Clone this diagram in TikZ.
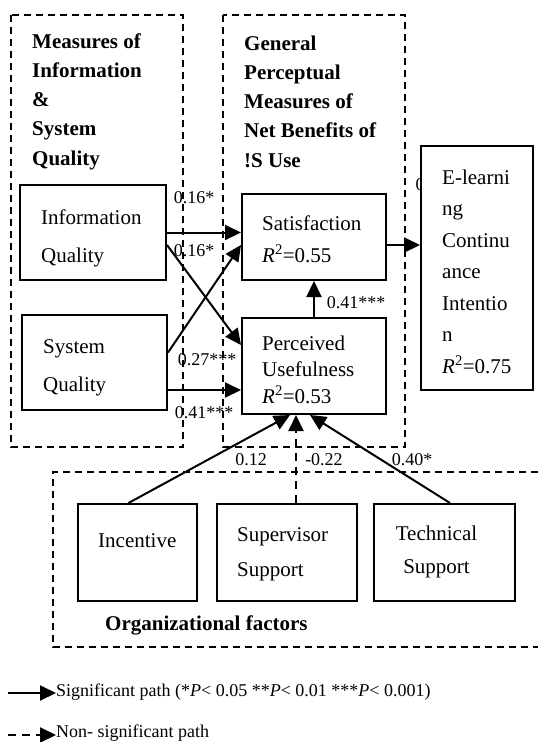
\documentclass[tikz,border=0pt]{standalone}
\usepackage{fontspec}
\setmainfont{Liberation Serif}
\usetikzlibrary{arrows.meta}
\tikzset{
 box/.style={draw,line width=2pt,inner sep=0pt},
 grp/.style={line width=1.7pt,dash pattern=on 7pt off 5pt},
 arr/.style={line width=2pt,-{Triangle[length=16pt,width=15pt]}},
 nsarr/.style={arr,dash pattern=on 8pt off 6pt},
 txt/.style={inner sep=0pt,anchor=west,align=left},
 lab/.style={inner sep=0pt,font=\fontsize{18}{20}\selectfont},
 head/.style={txt,font=\fontsize{21}{29.25}\selectfont\bfseries}
}
\newcommand{\rsq}[1]{\textit{R}\textsuperscript{2}=#1}
\begin{document}
\begin{tikzpicture}[x=1pt,y=-1pt,font=\fontsize{21}{25}\selectfont]
\useasboundingbox (0,0) rectangle (538,742);
\draw[grp] (11,15) rectangle (183,447);
\draw[grp] (223,15) rectangle (405,447);
\draw[grp] (538,472) -- (53,472) -- (53,647) -- (538,647);
\node[head] (hinfo) at (32,101.5) {Measures of\\Information\\\&\\System\\Quality};
\node[head] (hnet) at (244,101.5) {General\\Perceptual\\Measures of\\Net Benefits of\\!S Use};
\node[head] (horg) at (105,625) {Organizational factors};

\node[box,minimum width=146pt,minimum height=95pt] (infoq) at (93,232.5) {};
\node[txt,font=\fontsize{21}{38}\selectfont] (infoq-t) at (41,238) {Information\\Quality};
\node[box,minimum width=145pt,minimum height=95pt] (sysq) at (94.5,362.5) {};
\node[txt,font=\fontsize{21}{38}\selectfont] (sysq-t) at (43,368) {System\\Quality};
\node[box,minimum width=144pt,minimum height=86pt] (satis) at (314,237) {};
\node[txt,font=\fontsize{21}{32}\selectfont] (satis-t) at (262,239) {Satisfaction\\\rsq{0.55}};
\node[box,minimum width=144pt,minimum height=96pt] (perus) at (314,366) {};
\node[txt,font=\fontsize{21}{26.5}\selectfont] (perus-t) at (262,369.5) {Perceived\\Usefulness\\\rsq{0.53}};
\node[lab] (elci-l) at (420,185) {0};
\node[box,fill=white,minimum width=112pt,minimum height=244pt] (elci) at (477,268) {};
\node[txt,font=\fontsize{21}{31.5}\selectfont] (elci-t) at (442,271.5) {E-learni\\ng\\Continu\\ance\\Intentio\\n\\\rsq{0.75}};
\node[box,minimum width=119pt,minimum height=97pt] (incent) at (137.5,552.5) {};
\node[txt] (incent-t) at (98,541) {Incentive};
\node[box,minimum width=140pt,minimum height=97pt] (superv) at (287,552.5) {};
\node[txt,font=\fontsize{21}{35}\selectfont] (superv-t) at (237,554.5) {Supervisor\\Support};
\node[box,minimum width=141pt,minimum height=97pt] (techsup) at (444.5,552.5) {};
\node[inner sep=0pt,align=center,font=\fontsize{21}{33}\selectfont] (techsup-t) at (436.5,551.5) {Technical\\Support};

\draw[arr] (infoq.east) -- (infoq.east -| satis.west);
\draw[arr] ([yshift=-12.5pt]infoq.east) -- ([yshift=21pt]perus.west);
\draw[arr] ([yshift=10pt]sysq.east) -- ([yshift=-8pt]satis.west);
\draw[arr] ([yshift=-27.5pt]sysq.east) -- ([yshift=-27.5pt]sysq.east -| perus.west);
\draw[arr] (perus.north) -- (satis.south);
\draw[arr] ([yshift=-8pt]satis.east) -- ([yshift=-8pt]satis.east -| elci.west);
\draw[arr] ([xshift=-9pt]incent.north) -- ([xshift=-24pt]perus.south);
\draw[nsarr] ([xshift=9pt]superv.north) -- ([xshift=-18pt]perus.south);
\draw[arr] ([xshift=5.5pt]techsup.north) -- ([xshift=-4pt]perus.south);

\node[lab] (l-iqsat) at (194,198) {0.16*};
\node[lab] (l-sqsat) at (194,251) {0.16*};
\node[lab] (l-iqpu) at (207,360) {0.27***};
\node[lab] (l-sqpu) at (204,413) {0.41***};
\node[lab] (l-pusat) at (356,303) {0.41***};
\node[lab] (l-inc) at (251,460) {0.12};
\node[lab] (l-sup) at (324,460) {-0.22};
\node[lab] (l-tech) at (412,460) {0.40*};

\coordinate (leg-s) at (8,693);
\node[lab,anchor=west] (leg-sig) at (56,692) {Significant path (*\textit{P}< 0.05 **\textit{P}< 0.01 ***\textit{P}< 0.001)};
\draw[arr] (leg-s) -- (leg-s -| leg-sig.west);
\coordinate (leg-n) at (8,735);
\node[lab,anchor=west] (leg-ns) at (56,733) {Non- significant path};
\draw[nsarr] (leg-n) -- (leg-n -| leg-ns.west);
\end{tikzpicture}
\end{document}
